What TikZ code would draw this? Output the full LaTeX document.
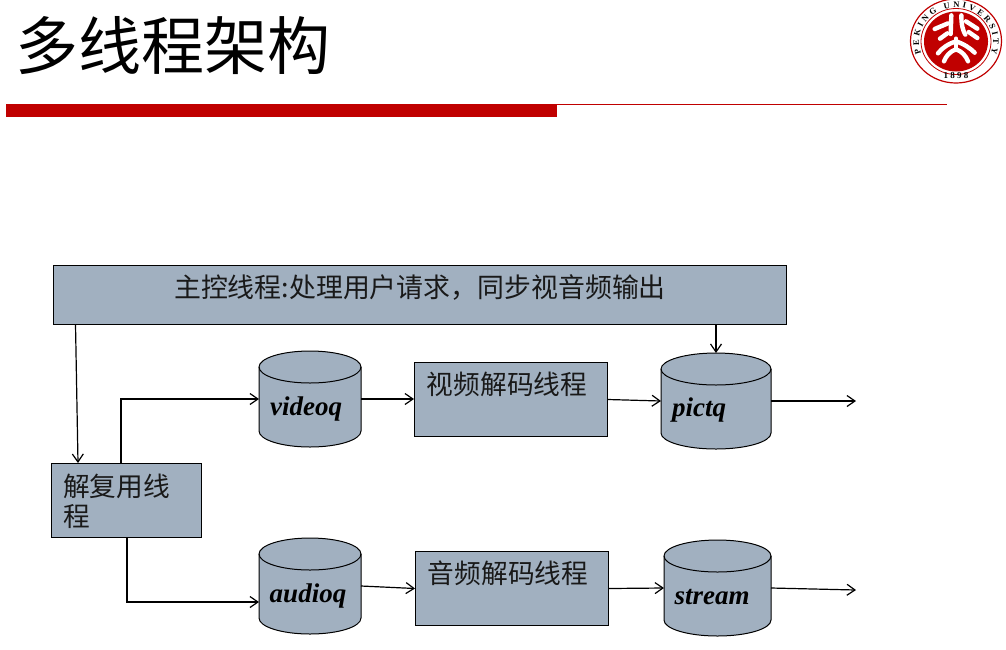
\documentclass[tikz,border=0pt]{standalone}
\usepackage{fontspec}
\setmainfont{Liberation Serif}
\newfontfamily\cjk{Noto Sans CJK SC}
\usetikzlibrary{positioning, arrows.meta, decorations.text}
\definecolor{boxfill}{RGB}{161,176,192}
\definecolor{pkured}{RGB}{192,0,0}
\tikzset{
  box/.style={draw=black, fill=boxfill, line width=1pt, inner sep=0pt},
  boxtext/.style={font=\cjk\fontsize{26.7}{30}\selectfont, inner sep=0pt, text=black!90},
  queuetext/.style={font=\bfseries\itshape\fontsize{27}{30}\selectfont, inner sep=0pt, text=black},
  queuebody/.style={draw=black, fill=boxfill, line width=1pt},
  flow/.style={-{Straight Barb[length=8pt,width=11pt]}, line width=1.2pt, black},
  emblem/.style={white, line width=4.4pt, line cap=round}
}
% name, centre x, centre y, half width
\newcommand{\queuedrum}[4]{
  \draw[queuebody] (#2-#4,#3-32) -- (#2-#4,#3+32) arc[start angle=180, end angle=360, x radius=#4, y radius=-16] -- (#2+#4,#3-32) arc[start angle=0, end angle=180, x radius=#4, y radius=-16] -- cycle;
  \draw[queuebody, fill=none] (#2-#4,#3-32) arc[start angle=180, end angle=360, x radius=#4, y radius=-16];
  \node[minimum width=#4*2, minimum height=96, inner sep=0pt, outer sep=0pt] (#1) at (#2,#3) {};
}
\begin{document}
\begin{tikzpicture}[x=1pt,y=-1pt]
  \useasboundingbox (0,0) rectangle (1006,649);
  % title and rule
  \node[font=\cjk\fontsize{63}{63}\selectfont, anchor=west, inner sep=0pt] (title) at (15,46) {多线程架构};
  \fill[pkured] (6,104) rectangle (557,117);
  \draw[pkured, line width=1pt] (557,104) -- (947,104);
  % emblem
  \draw[pkured, line width=1.2pt] (956,41) ellipse[x radius=45.5, y radius=42];
  \draw[pkured, line width=0.8pt] (956,41.5) ellipse[x radius=35, y radius=33];
  \fill[pkured] (956,41.5) ellipse[x radius=32, y radius=30];
  \path[decorate, decoration={text along path, text align={fit to path}, text={|\bfseries\fontsize{8.5}{9}\selectfont|PEKING UNIVERSITY}}]
    (956,41.5) ++(-200:37 and 34) arc[start angle=-200, end angle=20, x radius=37, y radius=34];
  \node[font=\bfseries\fontsize{9}{9}\selectfont, inner sep=0pt] (year) at (956,76) {1 8 9 8};
  \begin{scope}[shift={(920,8)}, x=0.3333pt, y=-0.3333pt]
    \draw[emblem] (94,22) -- (92,78);
    \draw[emblem] (84,46) -- (44,63);
    \draw[emblem] (82,76) -- (60,92);
    \draw[emblem] (124,22) .. controls (124,50) and (128,66) .. (136,80);
    \draw[emblem] (138,40) -- (172,62);
    \draw[emblem] (146,72) -- (172,90);
    \draw[emblem] (108,92) -- (108,118);
    \draw[emblem] (108,100) .. controls (84,108) and (66,120) .. (54,136);
    \draw[emblem] (108,100) .. controls (132,108) and (150,120) .. (164,134);
    \draw[emblem] (108,124) .. controls (90,130) and (78,144) .. (72,160);
    \draw[emblem] (108,124) .. controls (126,130) and (138,144) .. (144,160);
  \end{scope}
  % boxes
  \node[box, minimum width=733, minimum height=59, anchor=north west] (ctrl) at (53,265) {};
  \node[boxtext, font=\cjk\fontsize{26.9}{30}\selectfont] (ctrltext) at (420,288) {主控线程:处理用户请求，同步视音频输出};
  \node[box, minimum width=150, minimum height=74, anchor=north west] (demux) at (51,463) {};
  \node[boxtext, anchor=north west, align=left] (demuxtext) at (63,474) {解复用线\\程};
  \node[box, minimum width=193, minimum height=74, anchor=north west] (vdec) at (414,362) {};
  \node[boxtext] (vdectext) at (507,384) {视频解码线程};
  \node[box, minimum width=193, minimum height=74, anchor=north west] (adec) at (415,551) {};
  \node[boxtext] (adectext) at (508,573) {音频解码线程};
  % queues
  \queuedrum{videoq}{310}{399}{51}
  \queuedrum{audioq}{310}{586}{51}
  \queuedrum{pictq}{716}{401}{55}
  \queuedrum{stream}{717.5}{588}{53.5}
  \node[queuetext] (videoqtext) at (306,409) {videoq};
  \node[queuetext] (audioqtext) at (308,596) {audioq};
  \node[queuetext] (pictqtext) at (699,410) {pictq};
  \node[queuetext] (streamtext) at (712,597) {stream};
  % free ends
  \coordinate (pictend) at (856,401);
  \coordinate (streamend) at (856,590);
  \coordinate (ctrlout) at (75.5,324);
  \coordinate (demuxin) at (78,463);
  \coordinate (demuxup) at (121,463);
  \coordinate (demuxdown) at (127,537);
  \coordinate (ctrldown) at (716,324);
  \coordinate (pictin) at (716,353);
  \coordinate (audioin) at (259,602);
  % connectors
  \draw[flow] (ctrlout) -- (demuxin);
  \draw[flow] (ctrldown) -- (pictin);
  \draw[flow] (demuxup) |- (videoq.west);
  \draw[flow] (demuxdown) |- (audioin);
  \draw[flow] (videoq.east) -- (vdec.west |- videoq.east);
  \draw[flow] (audioq.east) -- (adec.west);
  \draw[flow] (vdec.east) -- (pictq.west);
  \draw[flow] (adec.east) -- (stream.west);
  \draw[flow] (pictq.east) -- (pictend);
  \draw[flow] (stream.east) -- (streamend);
\end{tikzpicture}
\end{document}
